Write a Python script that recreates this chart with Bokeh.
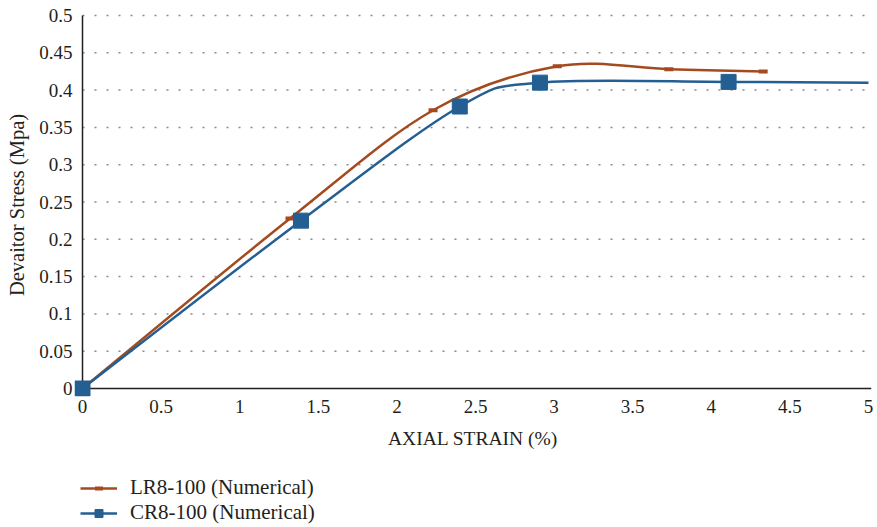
from bokeh.plotting import figure
from bokeh.layouts import column
from bokeh.models import Range1d, FixedTicker, Legend, LegendItem, ColumnDataSource
from bokeh.embed import file_html
from bokeh.resources import INLINE

# ---- data ----
lr_x = [0.0, 1.32, 2.23, 3.02, 3.73, 4.33]
lr_y = [0.0, 0.228, 0.373, 0.432, 0.428, 0.425]

cr_x = [0.0, 1.39, 2.40, 2.91, 4.11, 5.0]
cr_y = [0.0, 0.225, 0.378, 0.410, 0.411, 0.410]
cr_marker_count = 5  # last point of the series carries no marker

x_ticks = [0, 0.5, 1, 1.5, 2, 2.5, 3, 3.5, 4, 4.5, 5]
x_tick_labels = ["0", "0.5", "1", "1.5", "2", "2.5", "3", "3.5", "4", "4.5", "5"]
y_ticks = [0, 0.05, 0.1, 0.15, 0.2, 0.25, 0.3, 0.35, 0.4, 0.45, 0.5]
y_tick_labels = ["0", "0.05", "0.1", "0.15", "0.2", "0.25", "0.3", "0.35", "0.4", "0.45", "0.5"]

series_names = ["LR8-100 (Numerical)", "CR8-100 (Numerical)"]
x_title = "AXIAL STRAIN (%)"
y_title = "Devaitor Stress (Mpa)"

ORANGE = "#A44A1F"
BLUE = "#235F93"
TEXT = "#231F20"
FONT = "Liberation Serif"

# pixel scale of the plot area (style)
PX_X = 157.2   # px per unit strain
PX_Y = 746.0   # px per unit stress
PAD_L, PAD_B, PAD_R, PAD_T = 8, 8, 3, 2


def smooth_segments(xs, ys):
    """Excel-style smoothed line: cubic Bezier control points (Catmull-Rom, 1/6)."""
    n = len(xs)
    d = dict(x0=[], y0=[], x1=[], y1=[], cx0=[], cy0=[], cx1=[], cy1=[])
    for i in range(n - 1):
        xp, yp = (xs[i - 1], ys[i - 1]) if i > 0 else (xs[i], ys[i])
        xn, yn = (xs[i + 2], ys[i + 2]) if i + 2 < n else (xs[i + 1], ys[i + 1])
        d["x0"].append(xs[i]); d["y0"].append(ys[i])
        d["x1"].append(xs[i + 1]); d["y1"].append(ys[i + 1])
        d["cx0"].append(xs[i] + (xs[i + 1] - xp) / 6.0)
        d["cy0"].append(ys[i] + (ys[i + 1] - yp) / 6.0)
        d["cx1"].append(xs[i + 1] - (xn - xs[i]) / 6.0)
        d["cy1"].append(ys[i + 1] - (yn - ys[i]) / 6.0)
    return ColumnDataSource(d)


x0, x1 = x_ticks[0], x_ticks[-1]
y0, y1 = y_ticks[0], y_ticks[-1]
xr = Range1d(x0 - PAD_L / PX_X, x1 + PAD_R / PX_X)
yr = Range1d(y0 - PAD_B / PX_Y, y1 + PAD_T / PX_Y)

p = figure(width=877, height=460, x_range=xr, y_range=yr,
           output_backend="svg", toolbar_location=None,
           min_border_left=74, min_border_right=6, min_border_top=13, min_border_bottom=64)
p.outline_line_color = None
p.background_fill_color = "white"
p.border_fill_color = "white"
p.grid.grid_line_color = None

# dotted horizontal grid lines spanning the axis extent
gx0 = [x0] * (len(y_ticks) - 1)
gx1 = [x1] * (len(y_ticks) - 1)
p.segment(x0=gx0, y0=y_ticks[1:], x1=gx1, y1=y_ticks[1:], line_color="#8a8a8a",
          line_dash="2 10", line_width=1.5)

# axis lines
p.segment(x0=[x0, x0], y0=[y0, y0], x1=[x0, x1 + PAD_R / PX_X], y1=[y1, y0],
          line_color=TEXT, line_width=1.5)

# axes (labels only)
p.xaxis.ticker = FixedTicker(ticks=x_ticks)
p.yaxis.ticker = FixedTicker(ticks=y_ticks)
p.xaxis.major_label_overrides = {t: l for t, l in zip(x_ticks, x_tick_labels)}
p.yaxis.major_label_overrides = {t: l for t, l in zip(y_ticks, y_tick_labels)}
for ax in (p.xaxis, p.yaxis):
    ax.axis_line_color = None
    ax.major_tick_line_color = None
    ax.minor_tick_line_color = None
    ax.major_tick_out = 0
    ax.major_tick_in = 0
    ax.major_label_text_font = FONT
    ax.major_label_text_font_size = "19px"
    ax.major_label_text_color = TEXT
    ax.axis_label_text_font = FONT
    ax.axis_label_text_font_size = "19.5px"
    ax.axis_label_text_font_style = "normal"
    ax.axis_label_text_color = TEXT
p.xaxis.axis_label = x_title
p.yaxis.axis_label = y_title
p.yaxis.axis_label_text_font_size = "20.5px"
p.xaxis.major_label_standoff = 3
p.xaxis.axis_label_standoff = 12
p.yaxis.major_label_standoff = 2
p.yaxis.axis_label_standoff = 8

# series
lr_src = smooth_segments(lr_x, lr_y)
cr_src = smooth_segments(cr_x, cr_y)

p.bezier(x0="x0", y0="y0", x1="x1", y1="y1", cx0="cx0", cy0="cy0",
         cx1="cx1", cy1="cy1", source=lr_src, line_color=ORANGE, line_width=2.5)
p.scatter(lr_x[1:], lr_y[1:], marker="dash", size=9, line_color=ORANGE, line_width=4)

p.bezier(x0="x0", y0="y0", x1="x1", y1="y1", cx0="cx0", cy0="cy0",
         cx1="cx1", cy1="cy1", source=cr_src, line_color=BLUE, line_width=2.5)
p.scatter(cr_x[:cr_marker_count], cr_y[:cr_marker_count], marker="square",
          size=15, fill_color=BLUE, line_color=BLUE)

# ---- legend strip below the chart ----
# the strip's ranges are far away from the data, so its renderers only feed the legend
pl = figure(width=877, height=67, x_range=Range1d(100, 101), y_range=Range1d(100, 101),
            output_backend="svg", toolbar_location=None,
            x_axis_type=None, y_axis_type=None,
            min_border_left=0, min_border_right=0, min_border_top=0, min_border_bottom=0)
pl.outline_line_color = None
pl.grid.grid_line_color = None
pl.background_fill_color = "white"
pl.border_fill_color = "white"

l_lr_line = pl.line(lr_x, lr_y, line_color=ORANGE, line_width=2.5)
l_lr_mark = pl.scatter(lr_x, lr_y, marker="dash", size=9, line_color=ORANGE, line_width=4)
l_cr_line = pl.line(cr_x, cr_y, line_color=BLUE, line_width=2.5)
l_cr_mark = pl.scatter(cr_x, cr_y, marker="square", size=13, fill_color=BLUE, line_color=BLUE)

legend = Legend(items=[
    LegendItem(label=series_names[0], renderers=[l_lr_line, l_lr_mark]),
    LegendItem(label=series_names[1], renderers=[l_cr_line, l_cr_mark]),
], orientation="vertical", location=(6, 2))
legend.label_text_font = FONT
legend.label_text_font_size = "21px"
legend.label_text_color = TEXT
legend.glyph_width = 37
legend.glyph_height = 20
legend.label_height = 20
legend.label_standoff = 13
legend.spacing = 0
legend.padding = 0
legend.margin = 0
legend.border_line_color = None
legend.background_fill_alpha = 0
pl.add_layout(legend)

layout = column(p, pl, spacing=0)
open("out.html", "w").write(file_html(layout, INLINE))
